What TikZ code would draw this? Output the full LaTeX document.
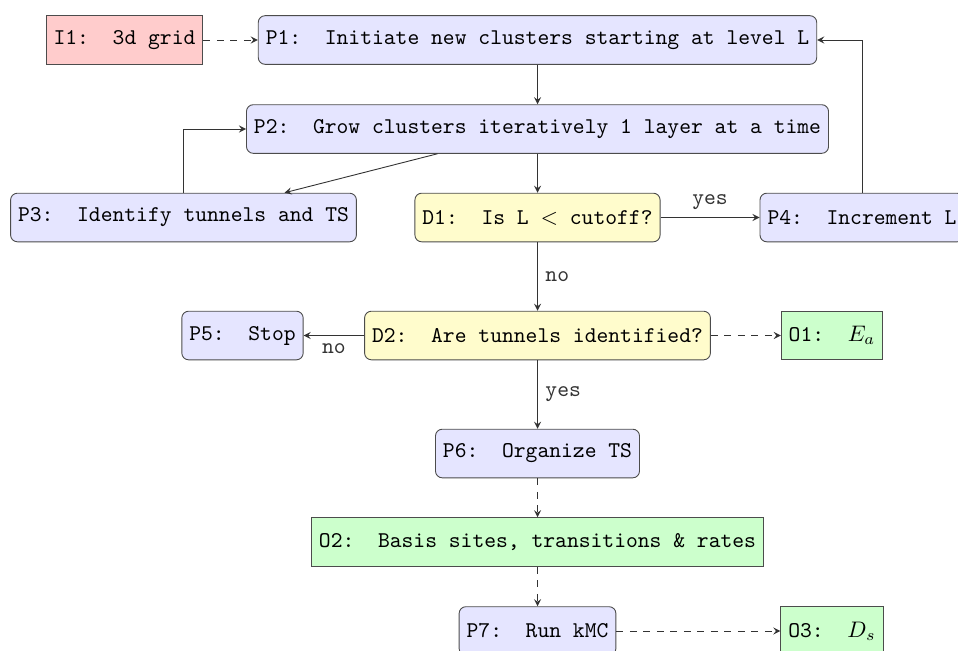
\documentclass[tikz,border=0pt]{standalone}
\usepackage{tikz}
\usetikzlibrary{arrows,calc,positioning}
\tikzset{
	every node/.style={
		font=\ttfamily
	},
	process/.style={
		shape=rectangle,
		minimum height=21.6pt,
		rounded corners=3pt,
		draw=black!70,
		fill=blue!10
	},
	decision/.style={
		shape=rectangle,
		minimum height=21.6pt,
		rounded corners=3pt,
		draw=black!70,
		fill=yellow!20
	},
	inbox/.style={
		shape=rectangle,
		minimum height=21.6pt,
		draw=black!70,
		fill=red!20
	},
	outbox/.style={
		shape=rectangle,
		minimum height=21.6pt,
		draw=black!70,
		fill=green!20
	},
	flow/.style={
		-stealth,
		black!80
	}
}

\begin{document}
\begin{tikzpicture}[x=0.4444pt,y=-0.4444pt]
	
	\useasboundingbox (0,0) rectangle (958,650);
	
	\node[inbox] (I1) at (124.5,40) {I1:~~3d grid};
	\node[process] (P1) at (537.5,40) {P1:~~Initiate new clusters starting at level L};
	\node[process] (P2) at (537.5,129) {P2:~~Grow clusters iteratively 1 layer at a time};
	\node[process] (P3) at (183.5,217.5) {P3:~~Identify tunnels and TS};
	\node[decision] (D1) at (537.5,217.5) {D1:~~Is L $<$ cutoff?};
	\node[process] (P4) at (862,217.5) {P4:~~Increment L};
	\node[process] (P5) at (242.5,335.5) {P5:~~Stop};
	\node[decision] (D2) at (537.5,335.5) {D2:~~Are tunnels identified?};
	\node[outbox] (O1) at (832,335.5) {O1:~~$E_a$};
	\node[process] (P6) at (537.5,453.5) {P6:~~Organize TS};
	\node[outbox] (O2) at (537.5,542) {O2:~~Basis sites, transitions \& rates};
	\node[process] (P7) at (537.5,631) {P7:~~Run kMC};
	\node[outbox] (O3) at (832,631) {O3:~~$D_s$};
	
	\draw[flow,dashed] (I1) -- (P1);
	\draw[flow] (P1) -- (P2);
	\draw[flow] ($(P2.south)+(-100,0)$) -- ($(P3.north)+(101,0)$);
	\draw[flow] (P3.north) |- (P2.west);
	\draw[flow] (P2) -- (D1);
	\draw[flow] (D1) -- node[above] {yes} (P4);
	\draw[flow] (P4.north) |- (P1.east);
	\draw[flow] (D1) -- node[right] {no} (D2);
	\draw[flow] (D2) -- node[below] {no} (P5);
	\draw[flow,dashed] (D2) -- (O1);
	\draw[flow] (D2) -- node[right] {yes} (P6);
	\draw[flow,dashed] (P6) -- (O2);
	\draw[flow,dashed] (O2) -- (P7);
	\draw[flow,dashed] (P7) -- (O3);
	
\end{tikzpicture}
\end{document}
